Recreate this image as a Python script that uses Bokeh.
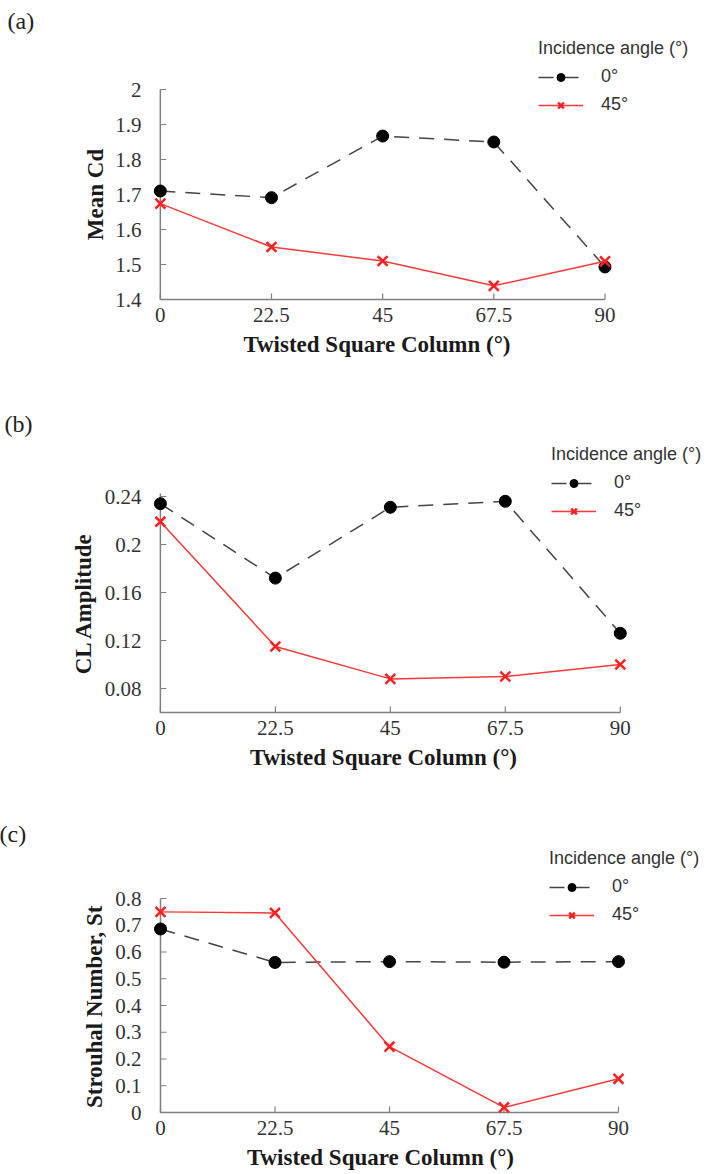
from bokeh.plotting import figure
from bokeh.layouts import column
from bokeh.models import Range1d, FixedTicker, Legend, LegendItem, Title
from bokeh.embed import file_html
from bokeh.resources import INLINE

# ---------------- data ----------------
twist = [0, 22.5, 45, 67.5, 90]
twist_labels = ["0", "22.5", "45", "67.5", "90"]
series_names = ["0°", "45°"]
legend_title = "Incidence angle (°)"
x_title = "Twisted Square Column (°)"

cd_0 = [1.710, 1.691, 1.867, 1.850, 1.493]
cd_45 = [1.674, 1.550, 1.510, 1.439, 1.509]
cd_ticks = [1.4, 1.5, 1.6, 1.7, 1.8, 1.9, 2.0]
cd_tick_labels = ["1.4", "1.5", "1.6", "1.7", "1.8", "1.9", "2"]
cd_lim = (1.4, 2.0)

cl_0 = [0.234, 0.172, 0.231, 0.236, 0.126]
cl_45 = [0.219, 0.115, 0.088, 0.090, 0.100]
cl_ticks = [0.08, 0.12, 0.16, 0.2, 0.24]
cl_tick_labels = ["0.08", "0.12", "0.16", "0.2", "0.24"]
cl_lim = (0.06, 0.2425)

st_0 = [0.686, 0.561, 0.564, 0.562, 0.564]
st_45 = [0.750, 0.746, 0.246, 0.019, 0.126]
st_ticks = [0, 0.1, 0.2, 0.3, 0.4, 0.5, 0.6, 0.7, 0.8]
st_tick_labels = ["0", "0.1", "0.2", "0.3", "0.4", "0.5", "0.6", "0.7", "0.8"]
st_lim = (0.0, 0.8)

SERIF = "Liberation Serif"
SANS = "Liberation Sans"
PADX = 12
PADY = 6
AXIS_COLOR = "#808080"
TICK_LEN = 6
TITLE_FS = 23
TITLE_INSET = 8
# approximate advance widths (em) of the bold serif titles, used to centre them
EM_WIDTH = {"Twisted Square Column (°)": 11.706, "Mean Cd": 3.972,
            "CL Amplitude": 6.195, "Strouhal Number, St": 8.917}


def make_panel(tag, y0s, y45s, yticks, ylabels, ylim, ytitle, H, x0px, x90px,
               ytop_px, ybot_px, frame_top, leg_x, leg_bottom, ytitle_standoff, xtitle_standoff):
    fl = x0px - PADX
    fb = ybot_px + PADY
    sx = (twist[-1] - twist[0]) / (x90px - x0px)
    sy = (ylim[1] - ylim[0]) / (ybot_px - ytop_px)
    p = figure(width=707, height=H, output_backend="svg", toolbar_location=None,
               x_range=Range1d(twist[0] - PADX * sx, twist[-1] + (707 - x90px) * sx),
               y_range=Range1d(ylim[0] - PADY * sy, ylim[1] + (ytop_px - frame_top) * sy),
               min_border_left=fl, min_border_right=0,
               min_border_top=frame_top, min_border_bottom=H - fb)
    p.outline_line_color = None
    p.grid.visible = False
    p.background_fill_color = "white"
    p.border_fill_color = "white"

    for ax in (p.xaxis[0], p.yaxis[0]):
        ax.axis_line_color = None
        ax.major_tick_line_color = None
        ax.minor_tick_line_color = None
        ax.major_tick_in = 0
        ax.major_tick_out = 0
        ax.major_label_text_font = SERIF
        ax.major_label_text_font_size = "21px"
        ax.major_label_text_color = "#333333"

    xa = p.xaxis[0]
    xa.ticker = FixedTicker(ticks=twist)
    xa.major_label_overrides = {t: l for t, l in zip(twist, twist_labels)}
    xa.major_label_standoff = 2

    ya = p.yaxis[0]
    ya.ticker = FixedTicker(ticks=yticks)
    ya.major_label_overrides = {t: l for t, l in zip(yticks, ylabels)}
    ya.major_label_standoff = PADX - 5

    # axis titles centred on the data area (the frame also holds the legend)
    xw = EM_WIDTH[x_title] * TITLE_FS
    xt = Title(text=x_title, align="left",
               offset=(x0px + x90px) / 2 - fl - xw / 2 - TITLE_INSET,
               standoff=xtitle_standoff, text_font=SERIF, text_font_size=f"{TITLE_FS}px",
               text_font_style="bold", text_color="#1a1a1a")
    p.add_layout(xt, "below")
    yw = EM_WIDTH[ytitle] * TITLE_FS
    yt = Title(text=ytitle, align="left", offset=fb - (ytop_px + ybot_px) / 2 - yw / 2,
               standoff=ytitle_standoff, text_font=SERIF, text_font_size=f"{TITLE_FS}px",
               text_font_style="bold", text_color="#1a1a1a")
    p.add_layout(yt, "left")

    # axis frame (L shape) and inward ticks, drawn on the data scales
    p.line([twist[0], twist[0], twist[-1]], [ylim[1], ylim[0], ylim[0]],
           line_color=AXIS_COLOR, line_width=1.5)
    p.segment(x0=twist, y0=[ylim[0]] * len(twist), x1=twist,
              y1=[ylim[0] + TICK_LEN * sy] * len(twist), line_color=AXIS_COLOR, line_width=1.2)
    p.segment(x0=[twist[0]] * len(yticks), y0=yticks, x1=[twist[0] + TICK_LEN * sx] * len(yticks),
              y1=yticks, line_color=AXIS_COLOR, line_width=1.2)

    l0 = p.line(twist, y0s, line_color="#444444", line_width=1.5, line_dash="15 10")
    m0 = p.scatter(twist, y0s, marker="circle", size=12, fill_color="black", line_color="black")
    l1 = p.line(twist, y45s, line_color="#ff3838", line_width=1.5)
    m1 = p.scatter(twist, y45s, marker="x", size=14, line_color="#ff2020", line_width=2.5)

    leg = Legend(items=[LegendItem(label=series_names[0], renderers=[l0, m0]),
                        LegendItem(label=series_names[1], renderers=[l1, m1])],
                 location=(leg_x - fl, fb - leg_bottom))
    leg.title = legend_title
    leg.title_text_font = SANS
    leg.title_text_font_size = "18px"
    leg.title_text_font_style = "normal"
    leg.title_text_color = "#333333"
    leg.title_standoff = 7
    leg.label_text_font = SANS
    leg.label_text_font_size = "18px"
    leg.label_text_color = "#333333"
    leg.glyph_width = 45
    leg.glyph_height = 20
    leg.label_height = 20
    leg.label_standoff = 18
    leg.spacing = 7
    leg.padding = 0
    leg.margin = 0
    leg.border_line_color = None
    leg.background_fill_alpha = 0
    p.add_layout(leg, "center")

    t = Title(text=tag, align="left", offset=-1 - fl, standoff=0,
              text_font=SERIF, text_font_size="24px", text_font_style="normal",
              text_color="#222222")
    p.add_layout(t, "above")
    return p


pa = make_panel("(a)", cd_0, cd_45, cd_ticks, cd_tick_labels, cd_lim, "Mean Cd",
                395, 152, 603, 89, 299, 33, 530, 115, 10, 10)
pb = make_panel("(b)", cl_0, cl_45, cl_ticks, cl_tick_labels, cl_lim, "CL Amplitude",
                405, 155, 619, 98, 317, 41, 546, 126, 12, 10)
pc = make_panel("(c)", st_0, st_45, st_ticks, st_tick_labels, st_lim, "Strouhal Number, St",
                374, 160, 618, 98, 312, 46, 549, 125, 11, 10)

layout = column(pa, pb, pc, spacing=0)
open("out.html", "w").write(file_html(layout, INLINE))
